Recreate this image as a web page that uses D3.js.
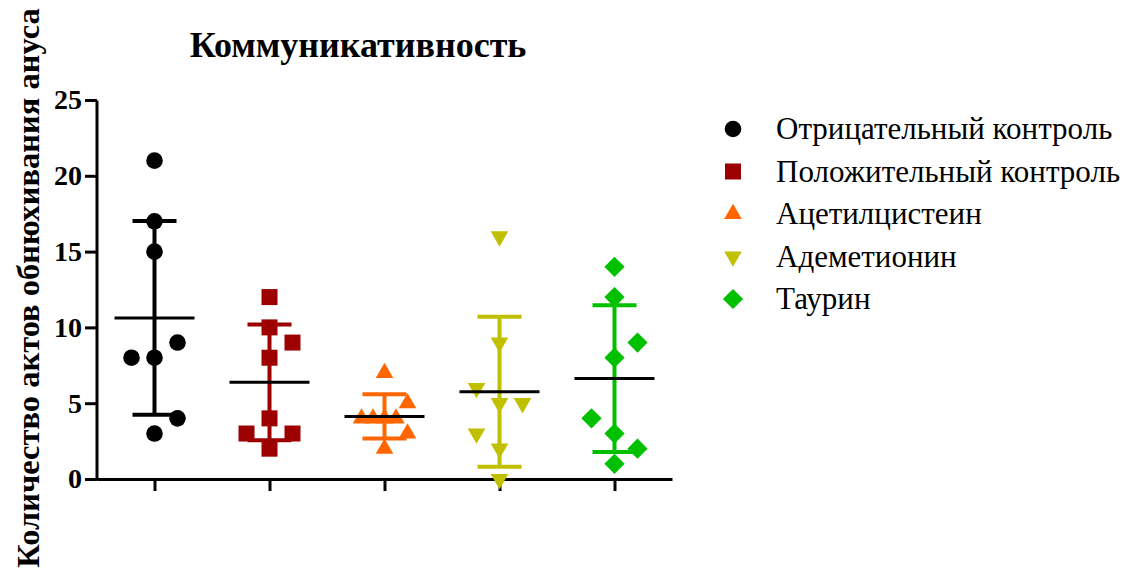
<!DOCTYPE html>
<html>
<head>
<meta charset="utf-8">
<script src="https://cdn.jsdelivr.net/npm/d3@7"></script>
<style>
  html, body { margin: 0; padding: 0; background: #fff; }
  svg { display: block; }
  text { font-family: "Liberation Serif", "Times New Roman", serif; fill: #000; }
</style>
</head>
<body>
<svg id="chart" width="1141" height="572"></svg>
<script>
// Groups and observations (number of anal-sniffing acts per animal)
const groups = [
  "Отрицательный контроль",
  "Положительный контроль",
  "Ацетилцистеин",
  "Адеметионин",
  "Таурин"
];
const negativeControl = [3, 4, 8, 8, 9, 15, 17, 21];
const positiveControl = [2, 3, 3, 4, 8, 9, 10, 12];
const acetylcysteine  = [2, 3, 4, 4, 4, 4, 5, 7];
const ademetionine    = [0, 2, 5, 5, 3, 6, 9, 16];
const taurine         = [1, 2, 3, 4, 8, 9, 12, 14];
const yTicks = [0, 5, 10, 15, 20, 25];

const title = "Коммуникативность";
const yTitle = "Количество актов обнюхивания ануса";

const seriesValues = [negativeControl, positiveControl, acetylcysteine, ademetionine, taurine];
const colors = ["#000000", "#9c0000", "#ff6600", "#c0c000", "#00c000"];
const shapes = ["circle", "square", "triangle", "triangleDown", "diamond"];

const svg = d3.select("#chart");

const x = d3.scalePoint().domain(groups).range([97, 672]).padding(0.5);
const y = d3.scaleLinear().domain([0, 25]).range([479, 100]);

// marker paths
function symbolPath(shape) {
  switch (shape) {
    case "circle": return d3.symbol(d3.symbolCircle, Math.PI * 8.3 * 8.3)();
    case "square": return d3.symbol(d3.symbolSquare, 16 * 16)();
    case "triangle": return d3.symbol(d3.symbolTriangle, 135)();
    case "triangleDown": return d3.symbol(d3.symbolTriangle, 135)();
    case "diamond": return d3.symbol(d3.symbolSquare, 205)();
  }
}
function symbolRotate(shape) {
  if (shape === "triangleDown") return 180;
  if (shape === "diamond") return 45;
  return 0;
}

// simple column-scatter spreading: points that would overlap are pushed sideways,
// alternating right/left
function spread(values) {
  const step = 23;
  const placed = [];
  let side = 1;
  values.forEach(v => {
    const py = y(v);
    const cands = [0, side * step, -side * step, side * step / 2, -side * step / 2, 2 * side * step, -2 * side * step];
    let dx = cands.find(d => placed.every(p => Math.abs(p.dx - d) >= 11 || Math.abs(p.py - py) >= 16));
    if (dx === undefined) dx = 0;
    if (dx !== 0) side = -side;
    placed.push({ v, py, dx });
  });
  return placed;
}

// axes
const yAxis = d3.axisLeft(y).tickValues(yTicks).tickSize(12).tickSizeOuter(0).tickPadding(3);
const gy = svg.append("g").attr("transform", "translate(97,0)").call(yAxis);
gy.select(".domain").attr("stroke", "#000").attr("stroke-width", 3).attr("d", "M0,100.5V480.5");
gy.selectAll(".tick line").attr("stroke", "#000").attr("stroke-width", 3);
gy.selectAll(".tick text")
  .attr("font-size", 28).attr("font-weight", "bold")
  .style("font-family", '"Liberation Serif", "Times New Roman", serif');

const xAxis = d3.axisBottom(x).tickSize(12).tickSizeOuter(0).tickFormat("");
const gx = svg.append("g").attr("transform", "translate(0,479)").call(xAxis);
gx.select(".domain").attr("stroke", "#000").attr("stroke-width", 3);
gx.selectAll(".tick line").attr("stroke", "#000").attr("stroke-width", 3);

// scatter points, SD bars and mean lines
groups.forEach((g, i) => {
  const vals = seriesValues[i];
  const cx = x(g);
  const mean = d3.mean(vals);
  const sd = d3.deviation(vals);
  const pts = spread(vals);
  const layer = svg.append("g");

  layer.selectAll("path.pt").data(pts).enter().append("path")
    .attr("class", "pt")
    .attr("d", symbolPath(shapes[i]))
    .attr("fill", colors[i])
    .attr("transform", d => `translate(${cx + d.dx},${d.py}) rotate(${symbolRotate(shapes[i])})`);

  const hiY = y(mean + sd), loY = y(mean - sd);
  layer.append("line")
    .attr("x1", cx).attr("x2", cx).attr("y1", hiY).attr("y2", loY)
    .attr("stroke", colors[i]).attr("stroke-width", 4);
  [hiY, loY].forEach(yy => {
    layer.append("line")
      .attr("x1", cx - 22).attr("x2", cx + 22).attr("y1", yy).attr("y2", yy)
      .attr("stroke", colors[i]).attr("stroke-width", 4);
  });
  layer.append("line")
    .attr("x1", cx - 40).attr("x2", cx + 40).attr("y1", y(mean)).attr("y2", y(mean))
    .attr("stroke", "#000").attr("stroke-width", 3);
});

// title
svg.append("text")
  .attr("x", 358).attr("y", 57)
  .attr("text-anchor", "middle")
  .attr("font-size", 36).attr("font-weight", "bold")
  .text(title);

// y axis title
svg.append("text")
  .attr("transform", "translate(39,288) rotate(-90)")
  .attr("text-anchor", "middle")
  .attr("font-size", 32.5).attr("font-weight", "bold")
  .text(yTitle);

// legend
const legend = svg.append("g");
groups.forEach((g, i) => {
  const ly = 129 + i * 42.5;
  legend.append("path")
    .attr("d", symbolPath(shapes[i]))
    .attr("fill", colors[i])
    .attr("transform", `translate(733,${ly}) rotate(${symbolRotate(shapes[i])})`);
  legend.append("text")
    .attr("x", 776).attr("y", ly + 10)
    .attr("font-size", 31)
    .text(g);
});
</script>
</body>
</html>
